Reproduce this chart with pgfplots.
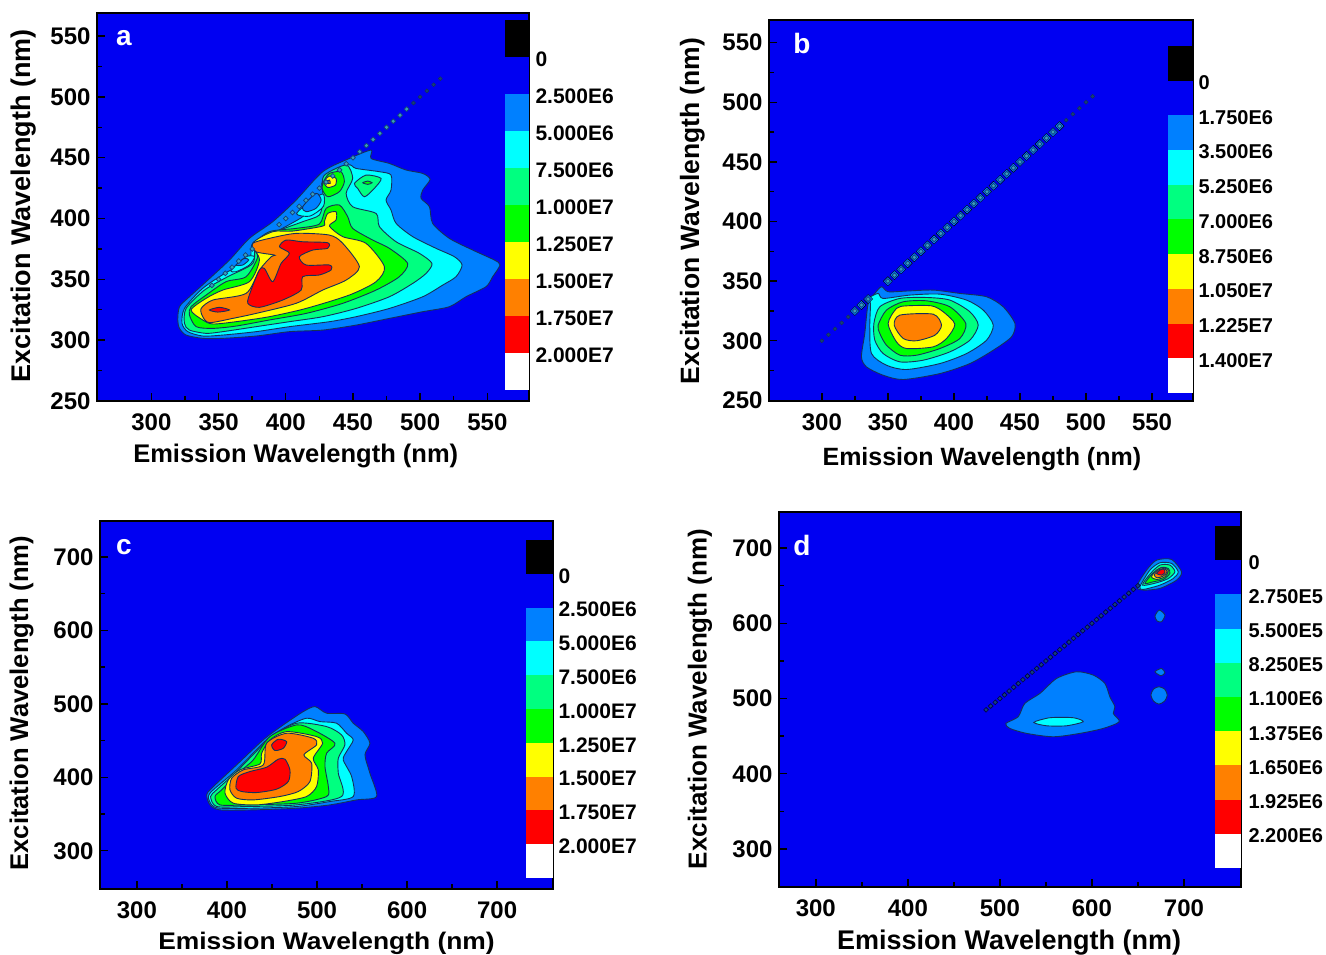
\documentclass[border=0pt]{standalone}
\usepackage{fontspec}
\setmainfont{Liberation Sans}
\usepackage{pgfplots}
\pgfplotsset{compat=1.18}
\definecolor{bg}{HTML}{0000F2}
\definecolor{c1}{HTML}{0080FF}
\definecolor{c2}{HTML}{00FFFF}
\definecolor{c3}{HTML}{00FF80}
\definecolor{c4}{HTML}{00FF00}
\definecolor{c5}{HTML}{FFFF00}
\definecolor{c6}{HTML}{FF8000}
\definecolor{c7}{HTML}{FF0000}
\definecolor{cl}{HTML}{14305A}
\definecolor{dotf}{HTML}{3AA0B8}
\definecolor{dotd}{HTML}{14407A}
\newcommand\lev[2]{\addplot[smooth cycle,tension=0.45,fill=#1,draw=cl,line width=0.9pt] coordinates {#2};}
\newcommand\fnt[1]{\bfseries\fontsize{#1}{#1}\selectfont}
\pgfplotsset{
  main/.style={
    scale only axis, axis background/.style={fill=bg},
    axis line style={line width=1.8pt}, tick style={black,line width=1.4pt},
    major tick length=8pt, minor tick length=5pt, minor tick num=1,
    tick pos=left, anchor=south west,
    /pgf/number format/assume math mode=true,
    ticklabel style={font=\fnt{24}},
    xticklabel style={yshift=-9pt},
    yticklabel style={xshift=-3pt},
  },
  cbar/.style={
    scale only axis, anchor=south west, y dir=reverse,
    xmin=0,xmax=1,ymin=-1,ymax=9, xtick=\empty, ytick={0,1,2,3,4,5,6,7,8},
    axis line style={draw=none}, tick style={draw=none}, major tick length=0pt,
    yticklabel pos=right,
    yticklabel style={font=\fnt{21},anchor=west,yshift=-2pt},
  },
  halo/.style={only marks,mark=square*,mark size=3.2pt,mark options={fill=c1,draw=none,rotate=45}},
  core/.style={only marks,mark=square*,mark size=1.7pt,mark options={fill=dotf,draw=dotd,line width=0.7pt,rotate=45}},
  tiny/.style={only marks,mark=square*,mark size=1.4pt,mark options={fill=dotd,draw=cl,line width=0.5pt,rotate=45}},
}
\newcommand\bars{%
  \addplot[fill=black,draw=none] coordinates {(0,-1)(1,-1)(1,0)(0,0)} -- cycle;
  \addplot[fill=bg,draw=none] coordinates {(0,0)(1,0)(1,1)(0,1)} -- cycle;
  \addplot[fill=c1,draw=none] coordinates {(0,1)(1,1)(1,2)(0,2)} -- cycle;
  \addplot[fill=c2,draw=none] coordinates {(0,2)(1,2)(1,3)(0,3)} -- cycle;
  \addplot[fill=c3,draw=none] coordinates {(0,3)(1,3)(1,4)(0,4)} -- cycle;
  \addplot[fill=c4,draw=none] coordinates {(0,4)(1,4)(1,5)(0,5)} -- cycle;
  \addplot[fill=c5,draw=none] coordinates {(0,5)(1,5)(1,6)(0,6)} -- cycle;
  \addplot[fill=c6,draw=none] coordinates {(0,6)(1,6)(1,7)(0,7)} -- cycle;
  \addplot[fill=c7,draw=none] coordinates {(0,7)(1,7)(1,8)(0,8)} -- cycle;
  \addplot[fill=white,draw=none] coordinates {(0,8)(1,8)(1,9)(0,9)} -- cycle;
}
\begin{document}
\begin{tikzpicture}
\path[use as bounding box] (0pt,0pt) rectangle (1326pt,955pt);
% ---------- a
\begin{axis}[main, at={(97pt,554pt)}, width=432pt, height=388pt,
  xmin=259.5,xmax=581,ymin=250,ymax=569,
  xtick={300,350,400,450,500,550}, ytick={250,300,350,400,450,500,550},
  xlabel={Emission Wavelength (nm)}, ylabel={Excitation Wavelength (nm)},
  xlabel style={font=\fnt{25.5},at={(axis description cs:0.46,-0.142)},anchor=center},
  ylabel style={font=\fnt{27},at={(axis description cs:-0.170,0.503)},anchor=center}]
\lev{c1}{(319.6,316.6)(320.9,327.5)(328.3,335.7)(340.7,348.1)(358.1,365.9)(372.9,383.7)(390.3,397.4)(407.7,415.2)(427.5,438.5)(447.3,449.4)(463.5,456.3)(463.5,449.4)(477.1,445.3)(489.5,439.9)(501.9,437.1)(507.4,432.2)(501.9,423.4)(500.7,416.6)(506.9,409.7)(509.3,396.0)(521.7,383.7)(539.1,374.1)(555.2,365.9)(559.4,361.8)(554.0,352.2)(549.0,344.0)(534.1,335.7)(521.7,327.5)(501.9,323.4)(477.1,317.9)(452.3,312.4)(427.5,308.3)(402.7,307.0)(377.9,303.4)(353.1,301.5)(338.2,301.5)(325.8,304.2)(320.9,309.7)}
\lev{c2}{(322.8,313.8)(324.6,326.1)(338.2,342.6)(356.8,356.3)(372.9,364.5)(375.4,379.6)(392.8,389.2)(412.6,401.5)(417.6,409.7)(427.5,417.9)(427.5,431.6)(446.1,444.0)(452.3,441.2)(469.7,438.5)(478.3,435.8)(478.3,423.4)(474.6,415.2)(478.3,407.0)(482.1,396.0)(494.5,385.1)(511.8,375.5)(525.5,368.6)(531.2,361.8)(526.7,352.2)(516.8,345.3)(501.9,335.7)(477.1,326.1)(452.3,319.3)(432.5,315.2)(402.7,311.1)(377.9,307.0)(353.1,304.2)(338.2,303.4)(327.1,307.0)}
\lev{c3}{(324.6,313.8)(325.8,326.1)(339.5,341.2)(356.8,352.2)(375.4,363.1)(377.9,379.6)(392.8,389.2)(412.6,397.4)(425.0,402.9)(427.5,415.2)(427.5,433.0)(432.5,438.5)(445.4,444.0)(449.8,433.0)(444.9,420.7)(449.8,409.7)(467.2,404.2)(469.7,393.3)(482.1,380.9)(499.4,371.4)(508.8,363.1)(504.4,354.9)(494.5,346.7)(477.1,335.7)(452.3,326.1)(427.5,319.3)(402.7,315.2)(377.9,311.1)(353.1,307.0)(340.7,305.6)(328.3,308.3)}
\lev{c2}{(359.3,357.6)(370.5,368.6)(376.7,368.6)(372.9,361.8)(363.0,356.3)}
\lev{c1}{(363.0,361.8)(369.2,367.3)(372.4,365.9)(368.0,361.8)}
\lev{c2}{(408.0,404.0)(420.0,416.0)(428.0,420.0)(428.0,410.0)(418.0,402.0)}
\lev{c1}{(412.6,409.7)(422.5,420.7)(426.3,415.2)(422.5,408.4)(415.1,405.6)}
\lev{c3}{(451.1,428.9)(459.7,435.7)(470.9,433.0)(465.9,424.8)(458.5,417.9)(453.5,424.8)}
\lev{c4}{(457.3,429.4)(461.0,430.8)(464.2,429.4)(461.0,428.1)}
\lev{c4}{(328.3,320.7)(329.5,327.5)(340.7,337.1)(355.6,348.1)(370.5,352.2)(379.1,368.6)(375.4,378.2)(387.8,389.2)(407.7,391.9)(425.0,395.5)(430.0,408.4)(439.9,411.1)(446.1,401.5)(449.8,391.9)(464.7,382.3)(477.1,375.5)(490.7,363.1)(484.5,352.2)(467.2,341.2)(442.4,330.3)(415.1,322.0)(387.8,316.6)(363.0,311.6)(345.7,309.7)(333.3,311.1)}
\lev{c4}{(428.7,431.6)(432.5,437.1)(441.1,438.5)(443.6,430.3)(439.9,422.1)(431.2,417.9)(427.0,424.8)}
\lev{c5}{(329.5,324.8)(340.7,334.4)(353.1,341.2)(372.9,348.1)(380.4,365.9)(375.4,379.6)(390.3,389.2)(405.2,389.7)(427.5,393.8)(428.7,397.4)(431.2,404.2)(437.4,405.6)(437.4,398.8)(432.5,393.8)(442.4,385.1)(459.7,379.6)(473.4,360.4)(467.2,348.1)(447.3,337.1)(415.1,326.1)(387.8,319.3)(363.0,315.2)(345.7,313.3)(338.2,316.6)}
\lev{c5}{(428.2,430.3)(432.5,434.9)(437.4,433.0)(436.9,427.5)(431.2,425.6)}
\lev{c6}{(429.5,430.3)(432.5,431.6)(433.0,428.9)(430.5,428.9)}
\lev{c6}{(337.0,326.1)(345.7,333.0)(370.5,338.5)(380.4,357.7)(389.1,368.6)(391.5,370.0)(377.9,372.7)(375.4,379.6)(387.8,383.7)(407.7,387.8)(432.5,386.4)(442.4,379.6)(454.8,360.4)(444.9,349.4)(427.5,341.2)(407.7,330.3)(377.9,322.0)(360.5,317.9)(343.2,314.4)(338.2,319.3)}
\lev{c7}{(371.7,330.3)(374.2,341.2)(380.4,357.7)(384.1,359.0)(390.3,348.1)(396.5,363.1)(402.7,371.4)(395.3,376.8)(400.2,382.3)(412.6,380.9)(431.2,380.1)(431.2,375.5)(420.1,374.1)(410.1,368.6)(415.1,361.8)(432.5,361.8)(433.7,357.7)(425.0,353.6)(412.6,352.2)(411.4,341.2)(397.7,333.0)(380.4,327.0)}
\lev{c7}{(343.2,324.8)(350.6,327.0)(358.1,324.8)(349.4,323.1)}
\addplot[core] coordinates {(345,345)(350,350)(355,355)(360,360)(365,365)(370,370)(375,375)(395,395)(400,400)(405,405)(410,410)(415,415)(420,420)(425,425)(430,430)(435,435)(440,440)(445,445)(450,450)(455,455)(460,460)(465,465)(470,470)(475,475)(480,480)(485,485)(490,490)};
\addplot[tiny] coordinates {(495,495)(500,500)(505,505)(510,510)(515,515)};
\end{axis}
\begin{axis}[cbar, at={(505pt,565pt)}, width=24pt, height=370pt,
  yticklabels={0,2.500E6,5.000E6,7.500E6,1.000E7,1.250E7,1.500E7,1.750E7,2.000E7},
  yticklabel style={xshift=3pt}]
\bars
\end{axis}
% ---------- b
\begin{axis}[main, at={(769pt,554pt)}, width=424pt, height=381pt,
  xmin=260,xmax=581,ymin=249.5,ymax=569,
  xtick={300,350,400,450,500,550}, ytick={250,300,350,400,450,500,550},
  xlabel={Emission Wavelength (nm)}, ylabel={Excitation Wavelength (nm)},
  xlabel style={font=\fnt{25},at={(axis description cs:0.502,-0.152)},anchor=center},
  ylabel style={font=\fnt{26.5},at={(axis description cs:-0.181,0.499)},anchor=center}]
\lev{c1}{(335.1,331.3)(340.1,339.7)(345.2,345.3)(350.2,341.1)(364.1,341.7)(384.3,342.5)(404.5,339.7)(424.7,336.9)(437.3,328.5)(446.2,314.5)(443.6,303.3)(429.8,292.1)(412.1,280.9)(389.4,272.5)(361.6,267.5)(346.4,271.1)(333.8,278.1)(330.0,286.5)(332.5,306.1)}
\lev{c2}{(336.8,331.3)(335.1,335.5)(342.6,339.7)(346.4,335.5)(366.6,338.3)(389.4,339.1)(409.6,334.1)(422.2,325.7)(429.8,313.1)(424.7,300.5)(409.6,289.3)(389.4,280.9)(364.1,275.9)(348.9,279.5)(337.6,289.3)(336.3,311.7)}
\lev{c3}{(339.4,314.5)(343.9,328.5)(359.1,335.5)(379.3,336.3)(396.9,334.1)(412.1,324.3)(418.4,313.1)(412.1,300.5)(396.9,290.7)(376.7,283.7)(359.1,282.3)(346.4,289.3)(340.1,300.5)}
\lev{c4}{(342.6,313.1)(348.9,325.7)(361.6,332.7)(379.3,333.5)(396.9,328.5)(409.0,314.5)(404.5,301.9)(389.4,293.5)(371.7,287.9)(359.1,287.9)(348.9,296.3)(343.9,306.1)}
\lev{c5}{(350.2,314.5)(356.5,327.1)(364.1,329.3)(383.0,329.3)(391.9,324.3)(400.7,313.9)(394.4,301.9)(384.3,294.9)(364.1,293.5)(356.5,299.1)}
\lev{c6}{(354.8,313.1)(359.1,321.5)(384.3,322.3)(390.6,313.1)(385.6,304.7)(371.7,300.0)(361.6,301.9)}
\addplot[tiny] coordinates {(300,300)(305,305)(310,310)(315,315)(320,320)(485,485)(490,490)(495,495)(500,500)(505,505)};
\addplot[halo] coordinates {(325,325)(330,330)(335,335)(350,350)(355,355)(360,360)(365,365)(370,370)(375,375)(380,380)(385,385)(390,390)(395,395)(400,400)(405,405)(410,410)(415,415)(420,420)(425,425)(430,430)(435,435)(440,440)(445,445)(450,450)(455,455)(460,460)(465,465)(470,470)(475,475)(480,480)};
\addplot[core] coordinates {(325,325)(330,330)(335,335)(350,350)(355,355)(360,360)(365,365)(370,370)(375,375)(380,380)(385,385)(390,390)(395,395)(400,400)(405,405)(410,410)(415,415)(420,420)(425,425)(430,430)(435,435)(440,440)(445,445)(450,450)(455,455)(460,460)(465,465)(470,470)(475,475)(480,480)};
\end{axis}
\begin{axis}[cbar, at={(1168pt,562pt)}, width=25pt, height=347pt,
  yticklabels={0,1.750E6,3.500E6,5.250E6,7.000E6,8.750E6,1.050E7,1.225E7,1.400E7},
  yticklabel style={xshift=2pt,font=\fnt{20}}]
\bars
\end{axis}
% ---------- c
\begin{axis}[main, at={(100pt,66pt)}, width=453pt, height=368pt,
  xmin=259,xmax=762,ymin=248,ymax=749,
  xtick={300,400,500,600,700}, ytick={300,400,500,600,700},
  xlabel={Emission Wavelength (nm)}, ylabel={Excitation Wavelength (nm)},
  xlabel style={font=\fnt{24},xscale=1.1,at={(axis description cs:0.5,-0.148)},anchor=center},
  ylabel style={font=\fnt{25.6},at={(axis description cs:-0.173,0.505)},anchor=center}]
\lev{c1}{(377.4,376.1)(383.0,385.2)(410.7,417.0)(440.3,451.0)(462.5,471.4)(484.7,489.5)(497.7,496.3)(510.6,487.3)(531.0,486.3)(540.2,473.7)(551.3,462.3)(558.7,446.4)(553.2,430.6)(558.7,405.6)(566.1,373.9)(543.9,369.3)(514.3,362.5)(477.3,358.0)(429.2,355.7)(392.2,355.7)(381.1,362.5)}
\lev{c2}{(379.2,373.9)(384.8,383.0)(410.7,410.2)(444.0,451.0)(466.2,469.1)(488.4,480.5)(503.2,475.9)(521.7,473.7)(532.8,460.0)(540.2,451.0)(532.8,435.1)(529.1,423.8)(538.4,401.1)(540.2,373.9)(514.3,367.1)(477.3,360.3)(429.2,358.0)(392.2,358.0)(383.0,362.5)}
\lev{c3}{(381.8,373.9)(388.5,383.0)(410.7,407.9)(447.7,453.2)(477.3,473.7)(510.6,469.1)(527.2,457.8)(530.9,444.2)(523.6,426.0)(523.6,405.6)(527.3,373.9)(477.3,362.5)(421.8,360.3)(388.5,360.3)}
\lev{c4}{(386.7,373.9)(394.1,383.0)(414.4,407.9)(429.2,423.8)(447.7,455.5)(477.3,471.4)(495.8,464.6)(519.9,446.4)(510.6,432.8)(508.8,414.7)(512.5,387.5)(510.6,373.9)(477.3,364.8)(421.8,362.5)(392.2,362.5)}
\lev{c5}{(397.8,378.4)(401.5,396.6)(414.4,410.2)(436.6,418.3)(438.5,432.8)(447.7,451.0)(466.2,462.3)(499.5,455.5)(506.2,446.4)(495.8,426.0)(501.4,410.2)(499.5,387.5)(488.4,373.9)(462.5,367.1)(432.9,362.5)(407.0,364.8)}
\lev{c6}{(403.3,383.0)(405.2,398.8)(418.1,410.2)(440.3,417.0)(444.0,446.4)(466.2,460.0)(495.8,453.2)(499.5,444.2)(485.4,430.6)(494.0,419.2)(492.1,394.3)(479.2,380.7)(458.8,373.9)(429.2,369.3)(410.7,371.6)}
\lev{c7}{(410.0,385.2)(412.6,401.1)(425.5,407.9)(444.0,413.8)(456.9,424.7)(464.4,424.7)(469.9,410.2)(468.1,394.3)(455.1,383.9)(432.9,379.3)(416.3,380.7)}
\lev{c7}{(449.6,444.2)(457.0,451.9)(466.2,448.7)(462.5,439.6)(453.3,436.5)}
\end{axis}
\begin{axis}[cbar, at={(526pt,77pt)}, width=27pt, height=338pt,
  yticklabels={0,2.500E6,5.000E6,7.500E6,1.000E7,1.250E7,1.500E7,1.750E7,2.000E7},
  yticklabel style={xshift=2pt}]
\bars
\end{axis}
% ---------- d
\begin{axis}[main, at={(779pt,68pt)}, width=462pt, height=375pt,
  xmin=260,xmax=762,ymin=249.5,ymax=748,
  xtick={300,400,500,600,700}, ytick={300,400,500,600,700},
  xlabel={Emission Wavelength (nm)}, ylabel={Excitation Wavelength (nm)},
  xlabel style={font=\fnt{27},at={(axis description cs:0.498,-0.149)},anchor=center},
  ylabel style={font=\fnt{26},at={(axis description cs:-0.171,0.501)},anchor=center}]
\lev{c1}{(506.5,466.9)(519.9,475.8)(527.1,493.5)(543.5,506.8)(561.6,526.7)(583.3,535.6)(601.4,531.2)(614.1,520.1)(619.5,502.4)(625.0,489.1)(623.2,480.2)(629.7,469.2)(612.3,460.3)(586.9,453.7)(558.0,449.2)(529.0,453.7)(510.8,460.3)}
\lev{c2}{(536.9,468.3)(554.3,474.5)(579.7,474.5)(590.6,469.2)(572.4,463.8)(550.7,463.8)}
\lev{c1}{(648.5,648.6)(659.4,670.7)(670.3,684.0)(686.6,684.9)(697.4,668.5)(692.0,657.4)(673.9,646.4)(655.8,644.2)}
\lev{c2}{(652.1,648.6)(663.0,670.7)(673.9,680.5)(686.6,679.6)(693.8,668.5)(688.4,659.6)(673.9,650.8)(655.8,645.0)}
\lev{c3}{(655.0,650.8)(663.7,666.3)(673.9,677.4)(684.7,677.4)(690.2,668.5)(683.0,659.6)(670.3,653.9)}
\lev{c4}{(657.6,653.0)(665.9,666.3)(675.7,674.3)(683.0,672.9)(684.7,666.3)(677.5,658.3)(666.6,655.2)}
\lev{c5}{(664.8,661.9)(670.3,670.7)(677.5,674.3)(683.0,669.8)(679.3,661.9)(670.3,658.3)}
\lev{c6}{(667.7,664.1)(672.0,670.7)(678.2,672.9)(681.9,668.5)(677.5,662.8)(671.0,660.5)}
\lev{c7}{(670.3,666.3)(673.9,670.7)(678.2,672.1)(679.3,667.6)(675.7,664.1)}
\lev{c1}{(668.5,609.6)(673.2,617.6)(679.3,610.9)(675.7,602.1)(671.0,603.0)}
\lev{c1}{(668.5,535.6)(675.7,540.0)(679.3,534.3)(675.0,530.3)}
\lev{c1}{(664.1,504.6)(667.0,512.6)(672.8,515.7)(679.0,512.6)(681.9,504.6)(679.0,496.6)(672.8,492.6)(667.0,496.6)}
\addplot[only marks,mark=square*,mark size=1.7pt,mark options={fill=dotd,draw=black!70!blue,line width=0.6pt,rotate=45}] coordinates {(485,485)(490,490)(495,495)(500,500)(505,505)(510,510)(515,515)(520,520)(525,525)(530,530)(535,535)(540,540)(545,545)(550,550)(555,555)(560,560)(565,565)(570,570)(575,575)(580,580)(585,585)(590,590)(595,595)(600,600)(605,605)(610,610)(615,615)(620,620)(625,625)(630,630)(635,635)(640,640)(645,645)(650,650)};
\end{axis}
\begin{axis}[cbar, at={(1215pt,87pt)}, width=26pt, height=342pt,
  yticklabels={0,2.750E5,5.500E5,8.250E5,1.100E6,1.375E6,1.650E6,1.925E6,2.200E6},
  yticklabel style={xshift=4pt,font=\fnt{20}}]
\bars
\end{axis}
\node[white,font=\fnt{28}] at (124pt,917pt) {a};
\node[white,font=\fnt{28}] at (802pt,911pt) {b};
\node[white,font=\fnt{28}] at (124pt,408pt) {c};
\node[white,font=\fnt{28}] at (802pt,409pt) {d};
\end{tikzpicture}
\end{document}
